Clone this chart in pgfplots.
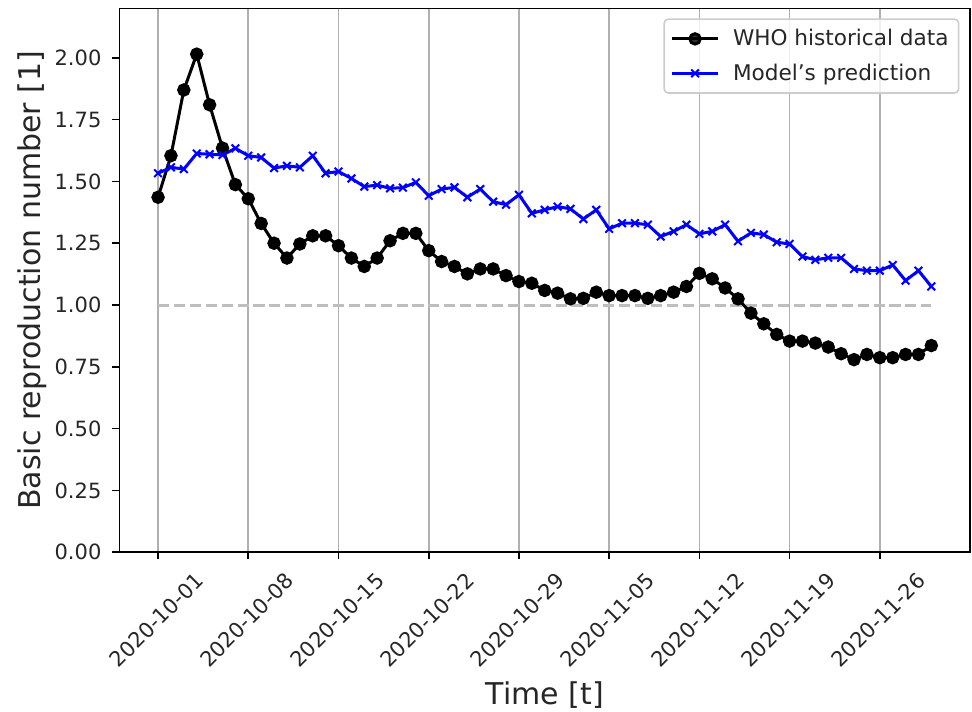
\documentclass[border=0pt]{standalone}
\usepackage{fontspec}
\setmainfont{DejaVu Sans}
\usepackage{pgfplots}
\pgfplotsset{compat=1.18}
\definecolor{gridgray}{RGB}{176,176,176}
\definecolor{dashgray}{RGB}{190,190,190}
\definecolor{leggray}{RGB}{204,204,204}
\begin{document}
\begin{tikzpicture}
\begin{axis}[
  scale only axis,
  width=425.3pt, height=271.9pt,
  xmin=-3, xmax=63, ymin=0, ymax=2.2,
  axis line style={line width=0.8pt},
  tick pos=left,
  tick align=outside,
  major tick length=3.5pt,
  tick style={line width=0.8pt, black},
  xtick={0,7,14,21,28,35,42,49,56},
  xticklabels={2020-10-01,2020-10-08,2020-10-15,2020-10-22,2020-10-29,2020-11-05,2020-11-12,2020-11-19,2020-11-26},
  ytick={0,0.25,0.5,0.75,1,1.25,1.5,1.75,2},
  yticklabel style={/pgf/number format/fixed,/pgf/number format/fixed zerofill,/pgf/number format/precision=2, anchor=east, inner sep=0pt, xshift=-5.3pt},
  /pgf/number format/assume math mode=true,
  ticklabel style={font=\fontsize{10.5}{12}\selectfont, text=black!85},
  xticklabel style={xshift=18pt, yshift=-5.8pt, rotate=45, anchor=north east, inner sep=0pt},
  xmajorgrids=true,
  grid style={gridgray, line width=0.8pt},
  xlabel={Time [t]},
  ylabel={Basic reproduction number [1]},
  label style={font=\fontsize{15}{18}\selectfont, text=black!85},
  xlabel style={at={(axis description cs:0.5,-0.2796)}, anchor=base},
  ylabel style={at={(axis description cs:-0.0932,0.5)}, anchor=base},
  legend style={at={(1,1)}, anchor=north east, xshift=-5.3pt, yshift=-5pt,
    draw=leggray, line width=0.8pt, rounded corners=2pt, fill=white, fill opacity=0.8, text opacity=1,
    font=\fontsize{10.8}{13}\selectfont, inner xsep=3pt, inner ysep=3pt, row sep=3.5pt,
    text=black!85},
  legend cell align=left,
  legend image code/.code={\draw[mark repeat=2,mark phase=2] plot coordinates {(0cm,0cm) (0.41cm,0cm) (0.82cm,0cm)}; \path (0.98cm,0cm);},
]
\addplot[dashgray, line width=1.5pt, dash pattern=on 5.55pt off 2.4pt, forget plot] coordinates {(0,1) (60,1)};
\addplot[black, line width=1.5pt, mark=*, mark size=2.6pt, mark options={solid}] coordinates {
(0,1.436) (1,1.604) (2,1.87) (3,2.015) (4,1.81) (5,1.635) (6,1.487) (7,1.43) (8,1.33) (9,1.25)
(10,1.19) (11,1.247) (12,1.28) (13,1.28) (14,1.24) (15,1.19) (16,1.156) (17,1.19) (18,1.26) (19,1.29)
(20,1.29) (21,1.22) (22,1.176) (23,1.156) (24,1.126) (25,1.146) (26,1.146) (27,1.119) (28,1.095) (29,1.088)
(30,1.059) (31,1.048) (32,1.025) (33,1.027) (34,1.052) (35,1.038) (36,1.038) (37,1.038) (38,1.027) (39,1.038)
(40,1.052) (41,1.075) (42,1.128) (43,1.106) (44,1.069) (45,1.025) (46,0.967) (47,0.924) (48,0.881) (49,0.854)
(50,0.854) (51,0.846) (52,0.830) (53,0.803) (54,0.779) (55,0.80) (56,0.787) (57,0.787) (58,0.80) (59,0.80)
(60,0.836)};
\addlegendentry{WHO historical data}
\addplot[blue, line width=1.5pt, mark=x, mark size=2.7pt, mark options={solid, line width=1pt}] coordinates {
(0,1.533) (1,1.557) (2,1.55) (3,1.613) (4,1.61) (5,1.607) (6,1.634) (7,1.604) (8,1.597) (9,1.554)
(10,1.563) (11,1.557) (12,1.604) (13,1.533) (14,1.54) (15,1.512) (16,1.479) (17,1.485) (18,1.472) (19,1.475)
(20,1.496) (21,1.442) (22,1.469) (23,1.476) (24,1.436) (25,1.469) (26,1.418) (27,1.406) (28,1.446) (29,1.371)
(30,1.385) (31,1.398) (32,1.389) (33,1.348) (34,1.385) (35,1.308) (36,1.331) (37,1.331) (38,1.325) (39,1.277)
(40,1.298) (41,1.325) (42,1.288) (43,1.298) (44,1.325) (45,1.258) (46,1.292) (47,1.285) (48,1.254) (49,1.247)
(50,1.196) (51,1.183) (52,1.191) (53,1.191) (54,1.146) (55,1.139) (56,1.139) (57,1.162) (58,1.099) (59,1.139)
(60,1.075)};
\addlegendentry{Model's prediction}
\end{axis}
\pgfresetboundingbox
\path[use as bounding box] ([xshift=-59.7pt,yshift=-79.5pt]current axis.south west) rectangle ([xshift=1pt,yshift=4.2pt]current axis.north east);
\end{tikzpicture}
\end{document}
